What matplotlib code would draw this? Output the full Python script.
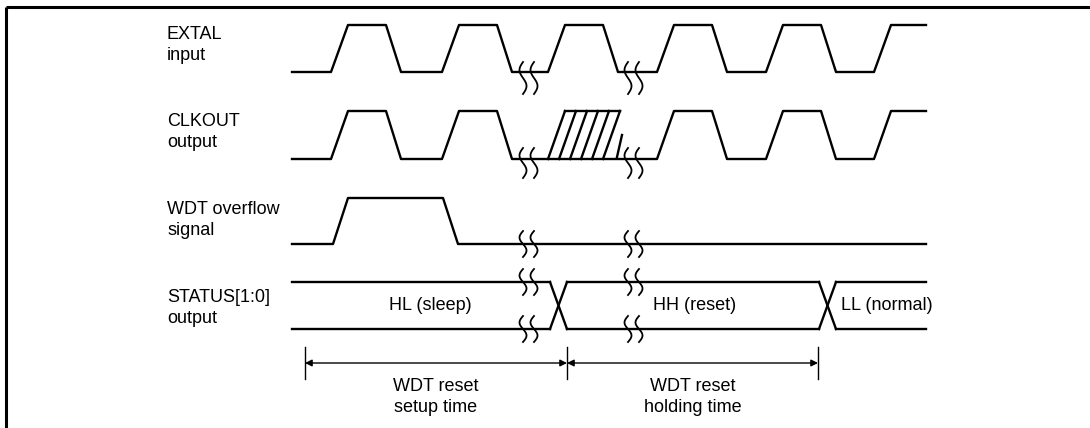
import numpy as np
import matplotlib
matplotlib.use("Agg")
import matplotlib.pyplot as plt

plt.rcParams['font.family'] = ['Liberation Sans', 'DejaVu Sans']

# signal names and their row levels (high y, low y) in pixel units
labels = ["EXTAL\ninput", "CLKOUT\noutput", "WDT overflow\nsignal", "STATUS[1:0]\noutput"]
label_y = [45, 132, 220, 308]
clk_high = [25, 111]
clk_low = [72, 159]

# clock rising edge start times (pixel units)
rise_starts = [331, 442, 548, 657, 766, 874]
t_rise, t_high, t_fall = 17, 38, 15
t_begin, t_end = 292, 926

# WDT overflow pulse
wdt_rise, wdt_fall = 333, 443
wdt_high, wdt_low = 198, 244

# STATUS bus transitions and states
bus_cross = [550, 819]
bus_width = 17
bus_top, bus_bot = 282, 329
bus_states = ["HL (sleep)", "HH (reset)", "LL (normal)"]
bus_state_x = [430, 695, 887]

# break marks (time gaps)
breaks = [[523, 534], [628, 639]]

# timing parameters
meas_x = [305, 567, 818]
meas_labels = ["WDT reset\nsetup time", "WDT reset\nholding time"]

LW = 1.7
fig = plt.figure(figsize=(10.9, 4.28), dpi=100)
ax = fig.add_axes([0, 0, 1, 1])
ax.set_xlim(0, 1090)
ax.set_ylim(428, 0)
ax.axis("off")

# frame
ax.plot([6, 1090], [7, 7], color="black", lw=2.2, solid_capstyle="butt")
ax.plot([6, 6], [7, 428], color="black", lw=2.2, solid_capstyle="butt")


def clock_xy(hi, lo, skip=None):
    xs, ys = [t_begin], [lo]
    for k, r in enumerate(rise_starts):
        if k == skip:
            continue
        xs += [r, r + t_rise]
        ys += [lo, hi]
        f = r + t_rise + t_high
        if f + t_fall < t_end:
            xs += [f, f + t_fall]
            ys += [hi, lo]
        else:
            xs += [t_end]
            ys += [hi]
    return xs, ys


def break_mark(x0, yc, h=14, a=3.5):
    t = np.linspace(0, 1, 60)
    ax.plot(x0 - a * np.sin(2 * np.pi * t), yc - h + 2 * h * t, color="black", lw=1.3)


# EXTAL
xs, ys = clock_xy(clk_high[0], clk_low[0])
ax.plot(xs, ys, color="black", lw=LW)

# CLKOUT with an undefined (hatched) period
xs, ys = clock_xy(clk_high[1], clk_low[1], skip=2)
ax.plot(xs, ys, color="black", lw=LW)
r = rise_starts[2]
hi, lo = clk_high[1], clk_low[1]
for i in range(6):
    ax.plot([r + 11 * i, r + 11 * i + t_rise], [lo, hi], color="black", lw=LW)
ax.plot([r + t_rise, r + 5 * 11 + t_rise], [hi, hi], color="black", lw=LW)
ax.plot([r + 69, r + 74], [lo - 2, 135], color="black", lw=LW)

# WDT overflow
ax.plot([t_begin, wdt_rise, wdt_rise + 15, wdt_fall, wdt_fall + 15, t_end],
        [wdt_low, wdt_low, wdt_high, wdt_high, wdt_low, wdt_low], color="black", lw=LW)

# STATUS bus
edges = [t_begin] + bus_cross + [t_end]
for k in range(len(edges) - 1):
    a = edges[k] if k == 0 else edges[k] + bus_width
    b = edges[k + 1]
    ax.plot([a, b], [bus_top, bus_top], color="black", lw=LW)
    ax.plot([a, b], [bus_bot, bus_bot], color="black", lw=LW)
for c in bus_cross:
    ax.plot([c, c + bus_width], [bus_top, bus_bot], color="black", lw=LW)
    ax.plot([c, c + bus_width], [bus_bot, bus_top], color="black", lw=LW)
for s, x in zip(bus_states, bus_state_x):
    ax.text(x, (bus_top + bus_bot) / 2, s, ha="center", va="center", fontsize=13)

# break marks on every line
for pair in breaks:
    for x in pair:
        break_mark(x, clk_low[0] + 6, h=16)
        break_mark(x, clk_low[1] + 4, h=15)
        break_mark(x, wdt_low, h=13)
        break_mark(x, bus_top, h=13)
        break_mark(x, bus_bot, h=13)

# signal labels
for lab, y in zip(labels, label_y):
    ax.text(167, y, lab, ha="left", va="center", fontsize=13, linespacing=1.25)

# timing measurements
for x in meas_x:
    ax.plot([x, x], [347, 379], color="black", lw=1.0)
for k in range(len(meas_labels)):
    x0, x1 = meas_x[k], meas_x[k + 1]
    ax.annotate("", xy=(x0, 363), xytext=(x1, 363),
                arrowprops=dict(arrowstyle="<|-|>", color="black", lw=1.0,
                                shrinkA=0, shrinkB=0, mutation_scale=10))
    ax.text((x0 + x1) / 2, 397, meas_labels[k], ha="center", va="center",
            fontsize=13, linespacing=1.3)

fig.savefig("out.png", dpi=100)
